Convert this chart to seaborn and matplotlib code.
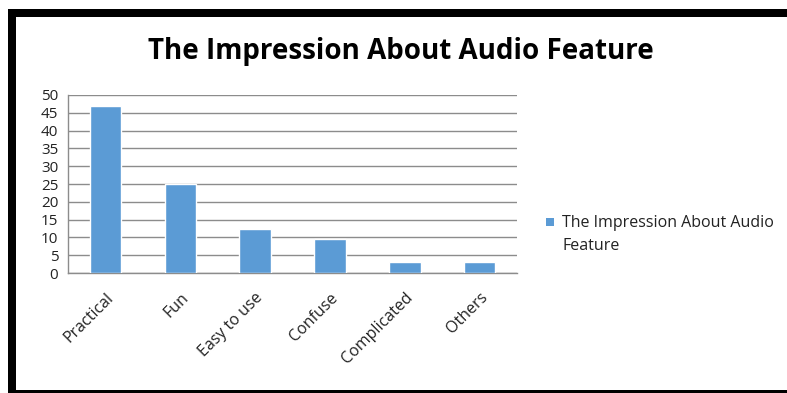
import matplotlib
matplotlib.use("Agg")
from matplotlib import pyplot as plt
from matplotlib.patches import Rectangle
import seaborn as sns
import pandas as pd

categories = ['Practical', 'Fun', 'Easy to use', 'Confuse', 'Complicated', 'Others']
counts = [47, 25, 12.5, 9.5, 3.2, 3.2]
y_ticks = [0, 5, 10, 15, 20, 25, 30, 35, 40, 45, 50]
series_name = 'The Impression About Audio Feature'

bar_color = '#5B9BD5'
grid_color = '#8C8C8C'

df = pd.DataFrame({'category': categories, 'count': counts})

sns.set_style('white')
plt.rcParams['font.family'] = ['Open Sans', 'DejaVu Sans']

fig = plt.figure(figsize=(7.87, 3.93), dpi=100)
ax = fig.add_axes([0.0864, 0.3053, 0.5706, 0.4530])

sns.barplot(data=df, x='category', y='count', color=bar_color,
            width=0.42, saturation=1, ax=ax, zorder=3)

ax.set_ylim(0, 50)
ax.set_xlim(-0.5, len(categories) - 0.5)
ax.set_yticks(y_ticks)
ax.set_yticklabels([str(t) for t in y_ticks], fontsize=11, color='#222222')
ax.yaxis.grid(True, color=grid_color, linewidth=1, zorder=0)
ax.xaxis.grid(False)
ax.set_xlabel('')
ax.set_ylabel('')

# tick marks sit between the categories
ax.set_xticks([i - 0.5 for i in range(len(categories) + 1)], minor=True)
ax.tick_params(axis='x', which='minor', length=5, color=grid_color, width=1, direction='out')
ax.tick_params(axis='x', which='major', length=0, pad=12)
ax.tick_params(axis='y', length=5, color=grid_color, width=1, direction='out', pad=2)
ax.set_xticks(range(len(categories)))
ax.set_xticklabels(categories, rotation=45, ha='right', rotation_mode='anchor',
                   fontsize=11.5, color='#222222')

for side in ['top', 'right']:
    ax.spines[side].set_visible(False)
for side in ['left', 'bottom']:
    ax.spines[side].set_color(grid_color)
    ax.spines[side].set_linewidth(1)

# title
fig.text(0.510, 0.868, series_name, ha='center', va='center',
         fontsize=20, fontweight='bold', color='black')

# legend (drawn by hand to place the wrapped label)
fig.patches.append(Rectangle((546 / 787, 1 - 226 / 393), 8 / 787, 8 / 393,
                             transform=fig.transFigure, facecolor=bar_color,
                             edgecolor='none'))
fig.text(562 / 787, 1 - 215 / 393, 'The Impression About Audio\nFeature',
         ha='left', va='top', fontsize=11.5, color='#222222', linespacing=1.55)

# black frame bands
fig.patches.append(Rectangle((8 / 787, 1 - 17 / 393), 779 / 787, 8 / 393,
                             transform=fig.transFigure, facecolor='black', edgecolor='none'))
fig.patches.append(Rectangle((8 / 787, 0), 8 / 787, 1 - 9 / 393,
                             transform=fig.transFigure, facecolor='black', edgecolor='none'))
fig.patches.append(Rectangle((8 / 787, 0), 779 / 787, 3 / 393,
                             transform=fig.transFigure, facecolor='black', edgecolor='none'))

fig.savefig('out.png', dpi=100)
plt.close(fig)
